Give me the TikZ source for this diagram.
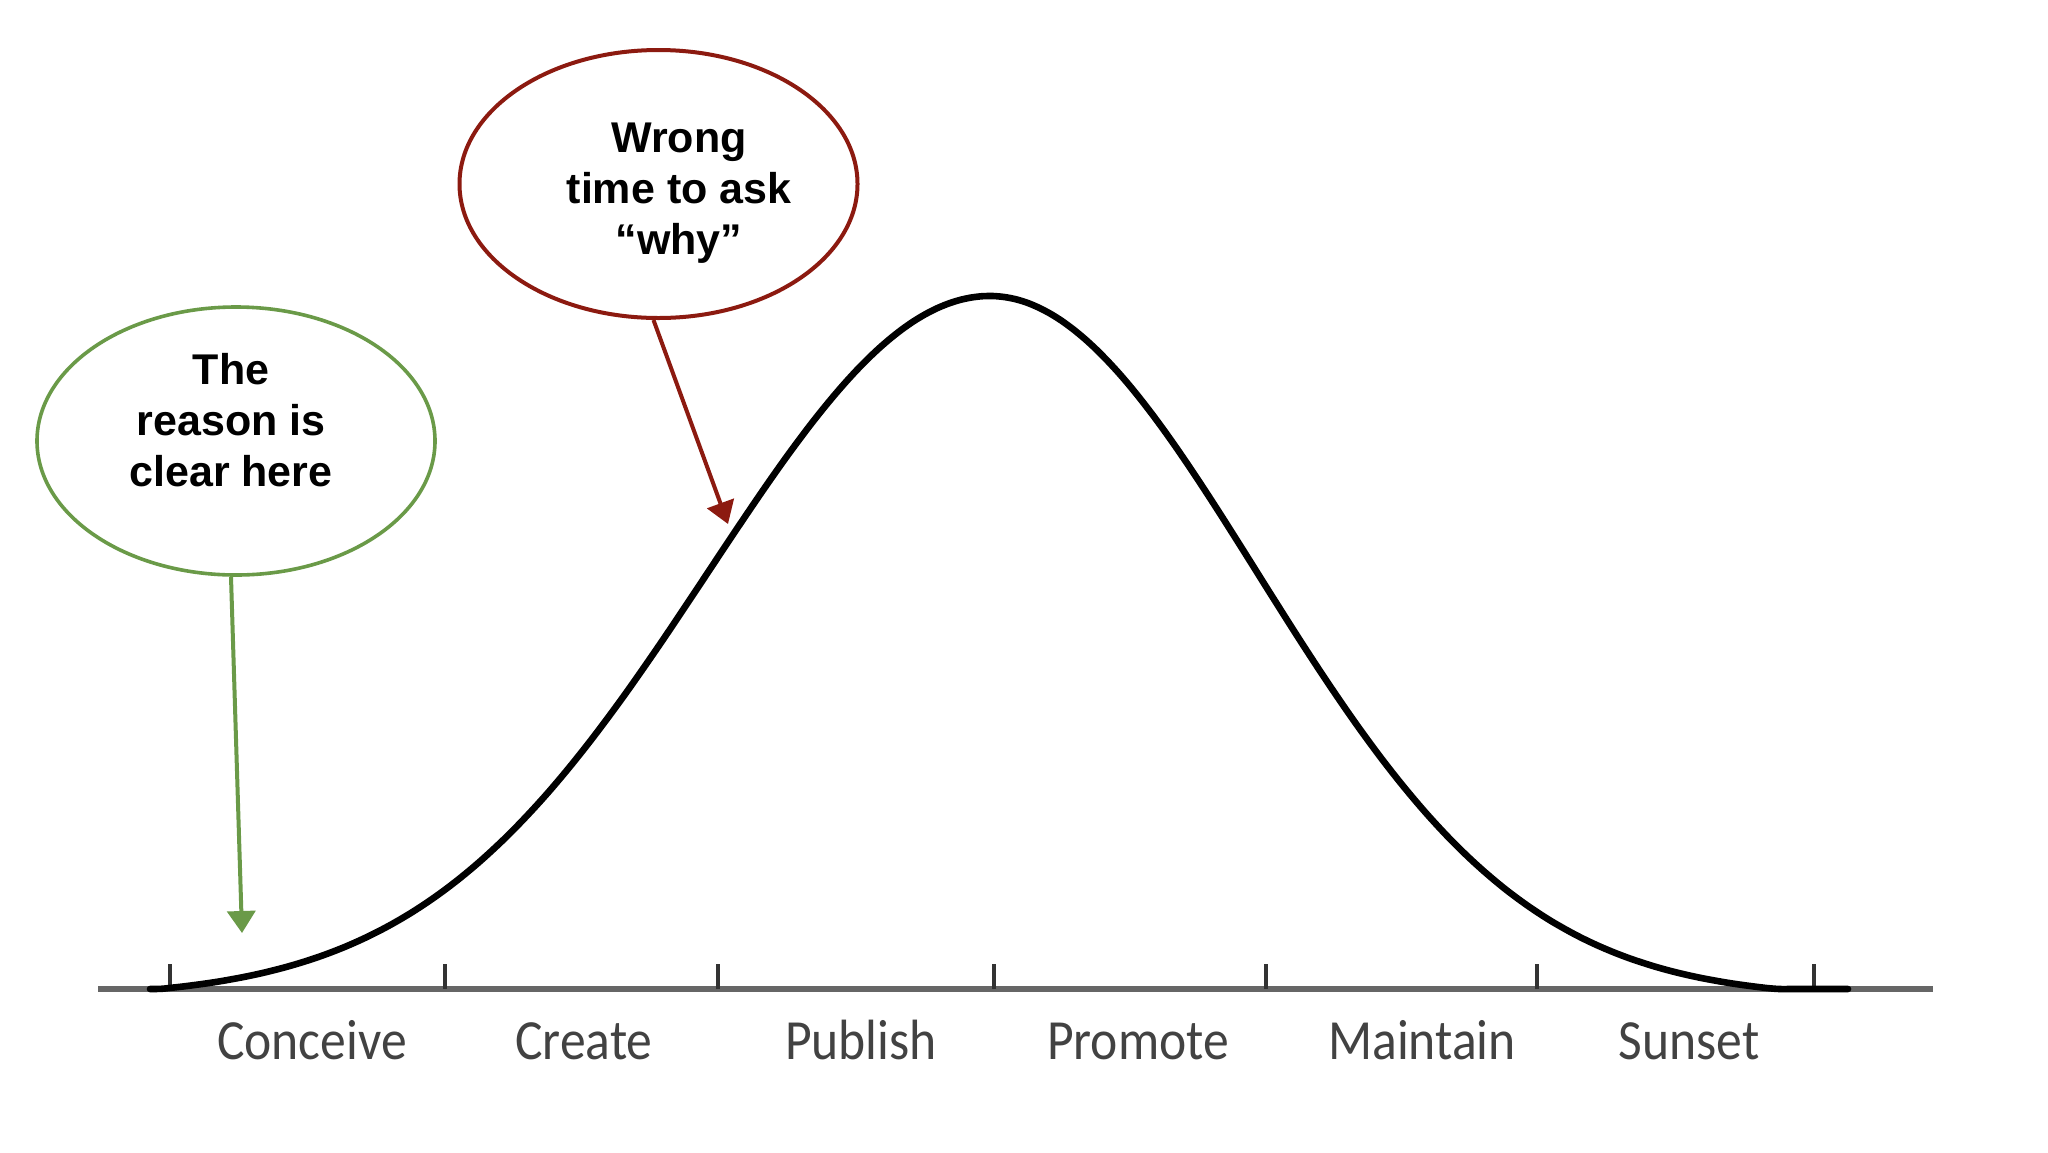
\documentclass[tikz,border=0pt]{standalone}
\usepackage{fontspec}
\setmainfont{Liberation Sans}
\newfontfamily\labfont{Carlito}
\usetikzlibrary{arrows.meta,shapes.geometric}
\definecolor{grn}{HTML}{6A9A48}
\definecolor{rd}{HTML}{8C1A10}
\definecolor{axisgray}{HTML}{666666}
\definecolor{tickgray}{HTML}{333333}
\definecolor{labgray}{HTML}{424242}
\begin{document}
\begin{tikzpicture}[x=0.5pt,y=-0.5pt,
  declare function={sig(\t)=(\t<990)*282+(\t>=990)*267;},
  bubble/.style={ellipse, draw, line width=1.9pt, minimum width=199pt, minimum height=134pt, inner sep=0pt},
  bubtext/.style={align=center, inner sep=0pt, font=\bfseries\fontsize{21.5}{25.5}\selectfont},
  callout/.style={line width=2pt, -{Triangle[width=14pt,length=11pt]}},
  stage/.style={anchor=base, inner sep=0pt, text=labgray, font=\labfont\fontsize{25.8}{30}\selectfont},
  tickmark/.style={line width=2pt, draw=tickgray},
  bell/.style={line width=3.3pt, line join=round, line cap=round}]
\useasboundingbox (0,0) rectangle (2048,1152);
\fill[white] (0,0) rectangle (2048,1152);

% axis
\coordinate (axL) at (98,989);
\coordinate (axR) at (1933,989);
\draw[axisgray, line width=2.8pt] (axL) -- (axR);

% ticks
\foreach \n/\x in {t1/170,t2/445,t3/718,t4/994,t5/1266,t6/1537,t7/1814}{
  \coordinate (\n) at (\x,989);
  \draw[tickmark] (\n) -- ++(0,-25);
}

% bell curve
\draw[bell] plot[smooth, domain=150:1848, samples=150]
  (\x, {989 - 702*max(0, exp(-((\x-990)/sig(\x))^2/2) - 0.013)});

% stage labels
\node[stage] (conceive) at (312,1059) {\scalebox{1}[1.1]{Conceive}};
\node[stage] (create)   at (584,1059) {\scalebox{1}[1.1]{Create}};
\node[stage] (publish)  at (861,1059) {\scalebox{1}[1.1]{Publish}};
\node[stage] (promote)  at (1138,1059) {\scalebox{1}[1.1]{Promote}};
\node[stage] (maintain) at (1422,1059) {\scalebox{1}[1.1]{Maintain}};
\node[stage] (sunset)   at (1689,1059) {\scalebox{1}[1.1]{Sunset}};

% bubbles
\node[bubble, draw=grn, line width=1.8pt] (gE) at (236,441) {};
\node[bubtext] (gT) at (231,420) {The\\reason is\\clear here};
\node[bubble, draw=rd, line width=2pt] (rE) at (658.5,184) {};
\node[bubtext] (rT) at (679,193) {Wrong\\time to ask\\``why''};

% callouts
\coordinate (gTip) at (242,933);
\coordinate (rTip) at (728,524);
\draw[callout, grn] ([xshift=-2.5pt]gE.south) -- (gTip);
\draw[callout, rd] ([xshift=-2.5pt]rE.south) -- (rTip);
\end{tikzpicture}
\end{document}
